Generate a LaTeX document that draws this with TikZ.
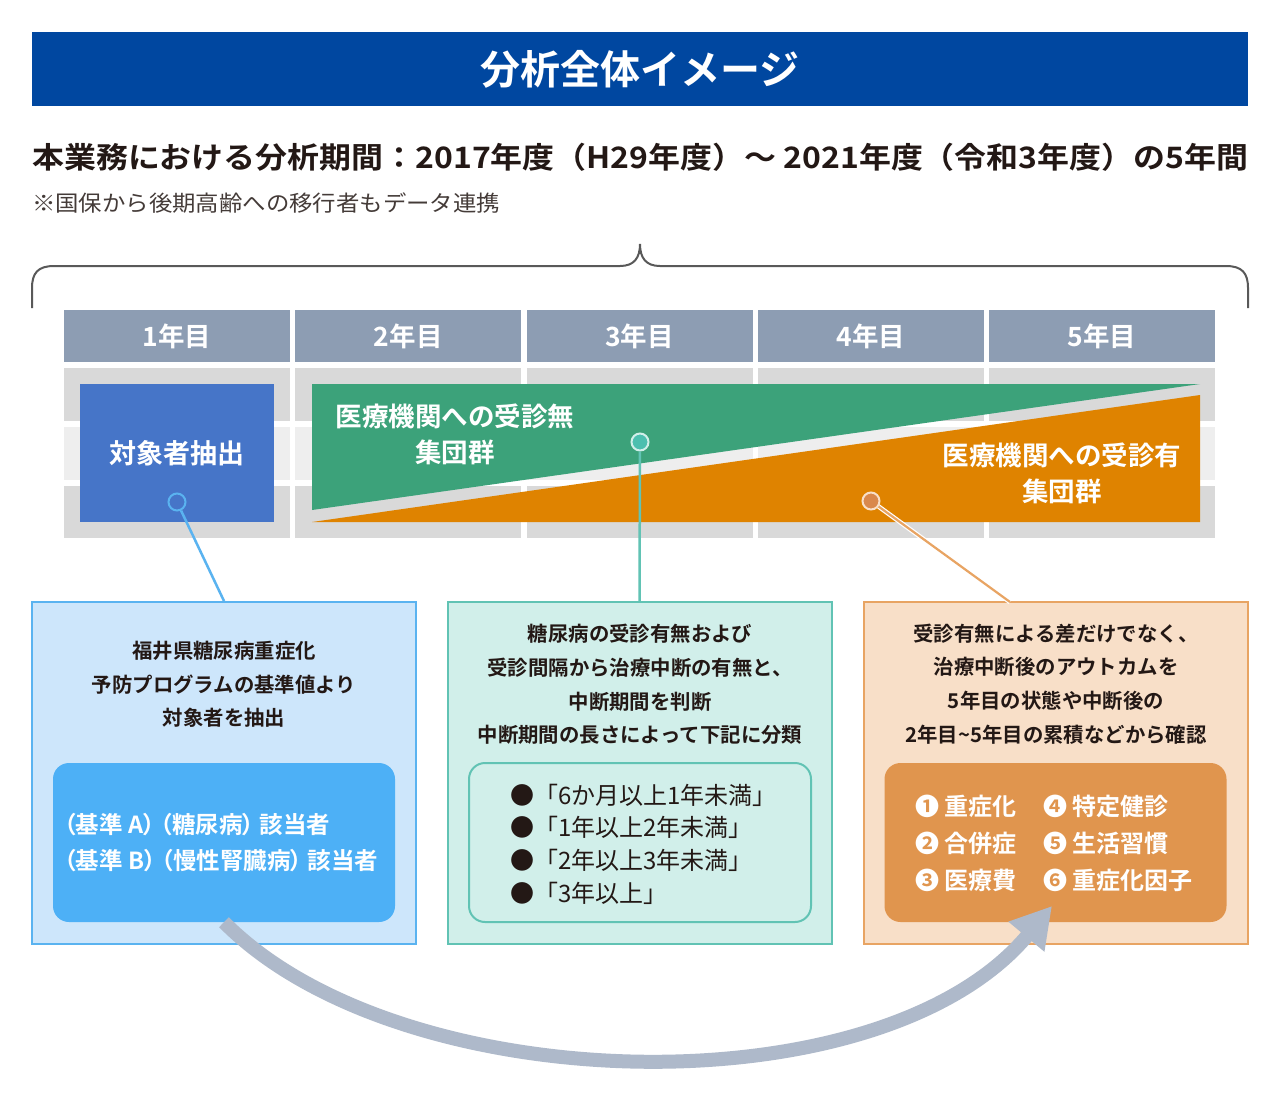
\documentclass[tikz,border=0pt]{standalone}
\usepackage{fontspec}
\setmainfont{Noto Sans CJK JP}[BoldFont={Noto Sans CJK JP Bold}]
\newfontfamily\jpp{Noto Sans CJK JP}[BoldFont={Noto Sans CJK JP Bold}, RawFeature=+palt]
\usetikzlibrary{arrows.meta}
\definecolor{titleblue}{HTML}{0047A0}
\definecolor{hdrgray}{HTML}{8D9DB3}
\definecolor{bandA}{HTML}{D9D9D9}
\definecolor{bandB}{HTML}{EEEEEE}
\definecolor{boxblue}{HTML}{4675C8}
\definecolor{grp}{HTML}{3CA27A}
\definecolor{org}{HTML}{DF8300}
\definecolor{lblue}{HTML}{CDE6FB}
\definecolor{lineblue}{HTML}{5AB3F0}
\definecolor{inblue}{HTML}{4DB0F6}
\definecolor{lteal}{HTML}{D1EFEA}
\definecolor{lineteal}{HTML}{61C3B4}
\definecolor{dotteal}{HTML}{4CBFAF}
\definecolor{peach}{HTML}{F8DFC8}
\definecolor{lineorg}{HTML}{E8A463}
\definecolor{inorg}{HTML}{E0954E}
\definecolor{dotorg}{HTML}{D9884C}
\definecolor{arrgray}{HTML}{AEB9CA}
\definecolor{ink}{HTML}{231815}
\definecolor{bracecol}{HTML}{595959}
\tikzset{
  hdr/.style={fill=hdrgray, minimum width=226pt, minimum height=52pt, inner sep=0, text=white, font=\fontsize{26.5}{30}\selectfont\bfseries},
  grptxt/.style={text=white, align=center, inner sep=0, font=\fontsize{26.5}{36}\selectfont\bfseries},
  outerbox/.style={line width=2pt, minimum width=384pt, minimum height=342pt, inner sep=0},
  innerbox/.style={rounded corners=16pt, minimum width=342pt, minimum height=159pt, inner sep=0},
  boxtxt/.style={text=ink, align=center, inner sep=0, font=\fontsize{20.4}{33.6}\selectfont\bfseries},
  dot/.style={circle, minimum size=17pt, inner sep=0, line width=2pt},
  con/.style={line width=2.5pt},
}
\begin{document}
\begin{tikzpicture}[x=1pt,y=-1pt]
\useasboundingbox[fill=white] (0,0) rectangle (1280,1104);
% title
\node[fill=titleblue, minimum width=1216pt, minimum height=74pt, inner sep=0, text=white, font=\fontsize{40}{46}\selectfont\bfseries] (title) at (640,69) {分析全体イメージ};
\node[anchor=west, inner sep=0, text=ink, font=\fontsize{29.5}{34}\selectfont\bfseries] (sub) at (32,157) {\resizebox{1216pt}{\height}{本業務における分析期間：2017年度（H29年度）～ 2021年度（令和3年度）の5年間}};
\node[anchor=west, inner sep=0, text=ink!85, font=\fontsize{22}{26}\selectfont] (note) at (32,203) {\resizebox{468pt}{\height}{※国保から後期高齢への移行者もデータ連携}};
% brace
\draw[bracecol, line width=2pt] (32,308) -- (32,288) .. controls (32,273) and (38,266) .. (54,266) -- (620,266) .. controls (634,266) and (640,258) .. (640,244) .. controls (640,258) and (646,266) .. (660,266) -- (1226,266) .. controls (1242,266) and (1248,273) .. (1248,288) -- (1248,308);
% table
\foreach \i/\yr in {0/1,1/2,2/3,3/4,4/5}{
  \node[hdr] (h\yr) at ({177+231.25*\i},336) {{\yr}年目};
  \fill[bandA] ({64+231.25*\i},368) rectangle +(226,53);
  \fill[bandB] ({64+231.25*\i},427) rectangle +(226,53);
  \fill[bandA] ({64+231.25*\i},486) rectangle +(226,52);
}
\node[fill=boxblue, minimum width=194pt, minimum height=138pt, inner sep=0, text=white, font=\fontsize{27}{32}\selectfont\bfseries] (target) at (177,453) {対象者抽出};
\fill[grp] (312,384) -- (1200,384) -- (312,510) -- cycle;
\fill[org] (312,522) -- (1200,395) -- (1200,522) -- cycle;
\node[grptxt] (nogrp) at (455,434) {医療機関への受診無\\集団群};
\node[grptxt] (yesgrp) at (1062,473) {医療機関への受診有\\集団群};
% bottom boxes
\node[outerbox, fill=lblue, draw=lineblue] (box1) at (224,773) {};
\node[outerbox, fill=lteal, draw=lineteal] (box2) at (639.5,773) {};
\node[outerbox, fill=peach, draw=lineorg] (box3) at (1055.5,773) {};
\coordinate (k3) at (1010,602);
% dots and connectors
\node[dot, fill=boxblue, draw=lineblue] (c1) at (177,502) {};
\node[dot, fill=dotteal, draw=lteal] (c2) at (640,442) {};
\node[dot, fill=dotorg, draw=peach] (c3) at (871,501) {};
\draw[con, lineblue] (c1) -- (box1.north);
\draw[con, lineteal] (c2) -- (box2.north);
\draw[line width=1.2pt, draw=white, double=lineorg, double distance=2.2pt] (c3) -- (k3);
% texts
\node[boxtxt] (t1) at (224,684.5) {福井県糖尿病重症化\\予防プログラムの基準値より\\対象者を抽出};
\node[boxtxt] (t2) at (640,684.5) {糖尿病の受診有無および\\受診間隔から治療中断の有無と、\\中断期間を判断\\中断期間の長さによって下記に分類};
\node[boxtxt] (t3) at (1056,684) {受診有無による差だけでなく、\\治療中断後のアウトカムを\\5年目の状態や中断後の\\2年目\char`\~5年目の累積などから確認};
% inner boxes
\node[innerbox, fill=inblue] (in1) at (224,842.5) {};
\node[innerbox, fill=lteal, draw=lineteal, line width=2pt] (in2) at (640,842.5) {};
\node[innerbox, fill=inorg] (in3) at (1055.5,842.5) {};
\node[anchor=west, align=left, inner sep=0, text=white, font=\jpp\fontsize{23.5}{36}\selectfont\bfseries] (a1) at (64,843) {（基準 A） （糖尿病） 該当者\\（基準 B） （慢性腎臓病） 該当者};
\node[anchor=west, align=left, inner sep=0, text=ink, font=\fontsize{24}{32.7}\selectfont] (a2) at (510,844) {●「6か月以上1年未満」\\●「1年以上2年未満」\\●「2年以上3年未満」\\●「3年以上」};
\node[anchor=west, align=left, inner sep=0, text=white, font=\fontsize{24}{37}\selectfont\bfseries] (a3) at (915,843) {❶ 重症化\\❷ 合併症\\❸ 医療費};
\node[anchor=west, align=left, inner sep=0, text=white, font=\fontsize{24}{37}\selectfont\bfseries] (a4) at (1043,843) {❹ 特定健診\\❺ 生活習慣\\❻ 重症化因子};
% big arrow
\coordinate (arrEnd) at (1052,906);
\draw[arrgray, line width=14pt, -{Triangle[length=40pt,width=44pt]}] (in1.south) .. controls (400,1100) and (880,1112) .. (arrEnd);
\end{tikzpicture}
\end{document}
